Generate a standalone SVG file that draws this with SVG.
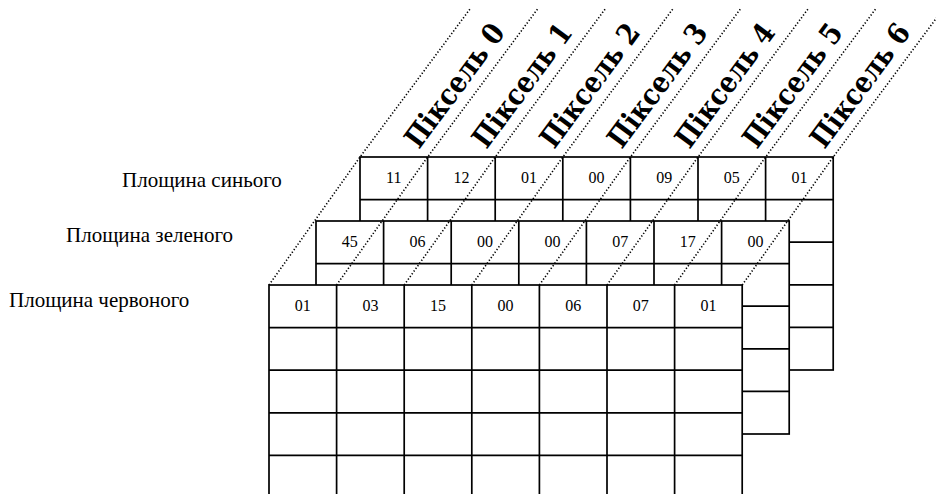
<svg xmlns="http://www.w3.org/2000/svg" width="936" height="494" viewBox="0 0 936 494">
<style>
.bg{fill:#fff}
.cell{fill:#fff;stroke:#000;stroke-width:1.7}
.grid{fill:none;stroke:#000;stroke-width:1.7}
.dot{fill:none;stroke:#000;stroke-width:1.6;stroke-dasharray:1.3 2}
.val{font-family:"Liberation Serif","Times New Roman",serif;font-size:16px;text-anchor:middle;fill:#000}
.lbl{font-family:"Liberation Serif","Times New Roman",serif;font-size:21px;fill:#000}
.pix{font-family:"DejaVu Serif","Liberation Serif",serif;font-weight:bold;font-size:29px;fill:#000}
</style>
<rect class="bg" x="0" y="0" width="936" height="494"/>

<g id="labels">
<text class="lbl" x="122" y="187">Площина синього</text>
<text class="lbl" x="66" y="242">Площина зеленого</text>
<text class="lbl" x="9" y="307">Площина червоного</text>
</g>

<g id="plane-blue">
<rect class="cell" x="360" y="157" width="473.2" height="213"/>
<path class="grid" d="M427.6 157V370M495.2 157V370M562.8 157V370M630.4 157V370M698 157V370M765.6 157V370M360 199.6H833.2M360 242.2H833.2M360 284.8H833.2M360 327.4H833.2"/>
<text class="val" x="393.8" y="183">11</text>
<text class="val" x="461.4" y="183">12</text>
<text class="val" x="529" y="183">01</text>
<text class="val" x="596.6" y="183">00</text>
<text class="val" x="664.2" y="183">09</text>
<text class="val" x="731.8" y="183">05</text>
<text class="val" x="799.4" y="183">01</text>
</g>

<g id="plane-green">
<rect class="cell" x="316" y="221" width="473.2" height="213"/>
<path class="grid" d="M383.6 221V434M451.2 221V434M518.8 221V434M586.4 221V434M654 221V434M721.6 221V434M316 263.6H789.2M316 306.2H789.2M316 348.8H789.2M316 391.4H789.2"/>
<text class="val" x="349.8" y="247">45</text>
<text class="val" x="417.4" y="247">06</text>
<text class="val" x="485" y="247">00</text>
<text class="val" x="552.6" y="247">00</text>
<text class="val" x="620.2" y="247">07</text>
<text class="val" x="687.8" y="247">17</text>
<text class="val" x="755.4" y="247">00</text>
</g>

<g id="connectors">
<path class="dot" d="M269 285L360 157L470 9M336.6 285L427.6 157L537.6 9M404.2 285L495.2 157L605.2 9M471.8 285L562.8 157L672.8 9M539.4 285L630.4 157L740.4 9M607 285L698 157L808 9M674.6 285L765.6 157L875.6 9M742.2 285L833.2 157L943.2 9"/>
</g>

<g id="plane-red">
<rect class="cell" x="269" y="285" width="473.2" height="213"/>
<path class="grid" d="M336.6 285V498M404.2 285V498M471.8 285V498M539.4 285V498M607 285V498M674.6 285V498M269 327.6H742.2M269 370.2H742.2M269 412.8H742.2M269 455.4H742.2"/>
<text class="val" x="302.8" y="311">01</text>
<text class="val" x="370.4" y="311">03</text>
<text class="val" x="438" y="311">15</text>
<text class="val" x="505.6" y="311">00</text>
<text class="val" x="573.2" y="311">06</text>
<text class="val" x="640.8" y="311">07</text>
<text class="val" x="708.4" y="311">01</text>
</g>

<g id="pixel-labels">
<text class="pix" transform="translate(419 150) rotate(-53.4)" textLength="146" lengthAdjust="spacingAndGlyphs">Піксель 0</text>
<text class="pix" transform="translate(486.6 150) rotate(-53.4)" textLength="146" lengthAdjust="spacingAndGlyphs">Піксель 1</text>
<text class="pix" transform="translate(554.2 150) rotate(-53.4)" textLength="146" lengthAdjust="spacingAndGlyphs">Піксель 2</text>
<text class="pix" transform="translate(621.8 150) rotate(-53.4)" textLength="146" lengthAdjust="spacingAndGlyphs">Піксель 3</text>
<text class="pix" transform="translate(689.4 150) rotate(-53.4)" textLength="146" lengthAdjust="spacingAndGlyphs">Піксель 4</text>
<text class="pix" transform="translate(757 150) rotate(-53.4)" textLength="146" lengthAdjust="spacingAndGlyphs">Піксель 5</text>
<text class="pix" transform="translate(824.6 150) rotate(-53.4)" textLength="146" lengthAdjust="spacingAndGlyphs">Піксель 6</text>
</g>
</svg>
